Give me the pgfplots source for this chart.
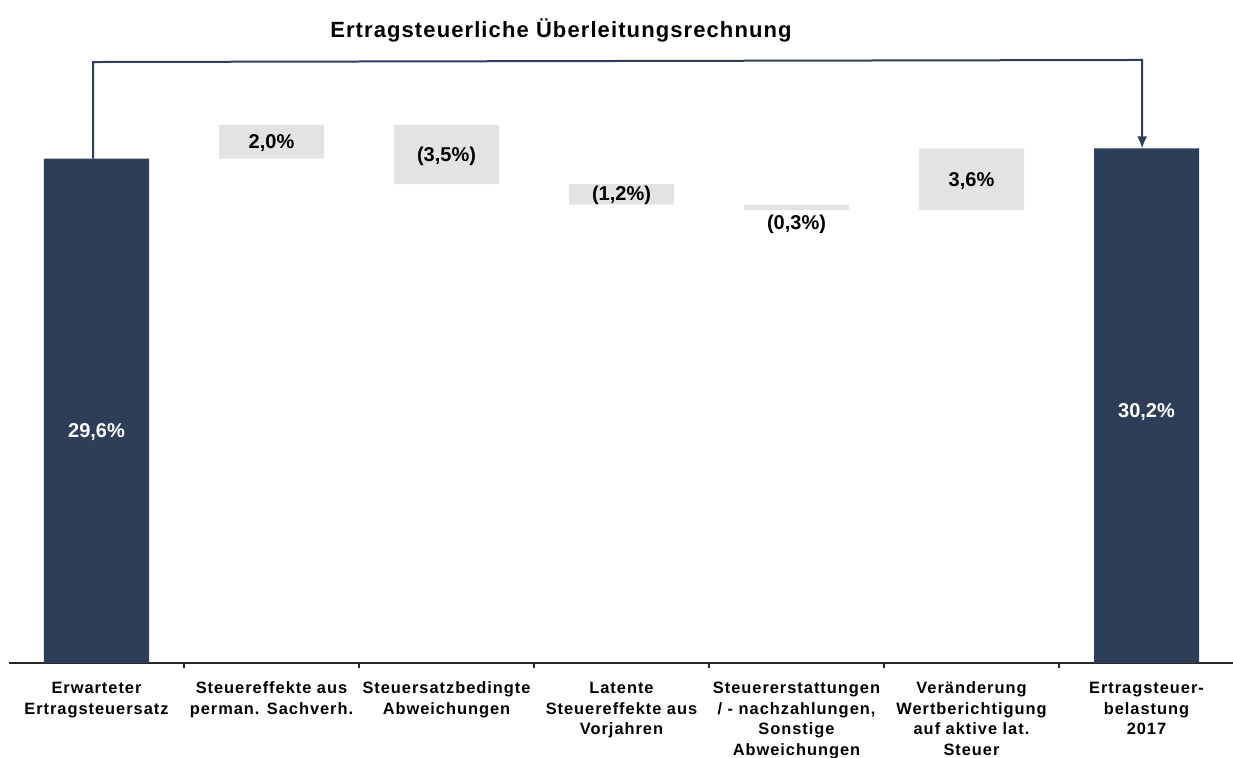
\documentclass[border=0pt]{standalone}
\usepackage{pgfplots}
\pgfplotsset{compat=1.18}
\usepackage{fontspec}
\setmainfont{Liberation Sans}
\newfontfamily\titlefont[LetterSpace=5]{Liberation Sans}
\newfontfamily\labelfont[LetterSpace=6]{Liberation Sans}
\usetikzlibrary{arrows.meta}
\definecolor{navy}{HTML}{2E3E58}
\definecolor{lgray}{HTML}{E3E3E3}
\begin{document}
\begin{tikzpicture}
\begin{axis}[
 scale only axis, width=612.5pt, height=331.5pt,
 xmin=-0.5, xmax=6.5, ymin=0, ymax=38.91,
 axis x line=bottom, axis y line=none,
 x axis line style={-, line width=0.8pt, black!85},
 ybar stacked, bar width=0.6,
 xtick={0,1,2,3,4,5,6}, major tick length=0pt,
 minor xtick={0.5,1.5,2.5,3.5,4.5,5.5,6.5}, minor tick length=2.5pt, tick align=outside,
 minor tick style={black!85, line width=0.6pt},
 xticklabels={{Erwarteter\\Ertragsteuersatz},{Steuereffekte aus\\perman. Sachverh.},{Steuersatzbedingte\\Abweichungen},{Latente\\Steuereffekte aus\\Vorjahren},{Steuererstattungen\\/ - nachzahlungen,\\Sonstige\\Abweichungen},{Veränderung\\Wertberichtigung\\auf aktive lat.\\Steuer},{Ertragsteuer-\\belastung\\2017}},
 typeset ticklabels with strut,
 xticklabel style={align=center, anchor=north, font=\labelfont\fontsize{8.2}{10.25}\selectfont\bfseries, yshift=-4.6pt},
 clip=false,
]
\addplot[draw=none, fill=none, forget plot] coordinates {(0,0) (1,29.6) (2,28.1) (3,26.9) (4,26.6) (5,26.6) (6,0)};
\addplot[fill=navy, draw=none] coordinates {(0,29.6) (1,0) (2,0) (3,0) (4,0) (5,0) (6,30.2)};
\addplot[fill=lgray, draw=none] coordinates {(0,0) (1,2.0) (2,3.5) (3,1.2) (4,0.3) (5,3.6) (6,0)};
\addplot[sharp plot, stack plots=false, navy, line width=1pt, -{Latex[length=6pt,width=5pt]}, mark=none] coordinates {(-0.02,29.6) (-0.02,35.27) (5.975,35.39) (5.975,30.2)};

\coordinate (t) at (axis cs:2.654,37.15);
\coordinate (l0) at (axis cs:0,13.55);
\coordinate (l6) at (axis cs:6,14.73);
\coordinate (l1) at (axis cs:1,30.52);
\coordinate (l2) at (axis cs:2,29.73);
\coordinate (l3) at (axis cs:3,27.42);
\coordinate (l4) at (axis cs:4,25.76);
\coordinate (l5) at (axis cs:5,28.28);
\end{axis}
\node[font=\titlefont\fontsize{11}{13}\selectfont\bfseries] at (t) {Ertragsteuerliche Überleitungsrechnung};
\tikzset{lab/.style={font=\fontsize{10}{12}\selectfont\bfseries}}
\node[lab, white] at (l0) {29,6\%};
\node[lab, white] at (l6) {30,2\%};
\node[lab] at (l1) {2,0\%};
\node[lab] at (l2) {(3,5\%)};
\node[lab] at (l3) {(1,2\%)};
\node[lab] at (l4) {(0,3\%)};
\node[lab] at (l5) {3,6\%};
\pgfresetboundingbox
\path[use as bounding box] (-4.5pt,-47pt) rectangle (612pt,331.5pt);
\end{tikzpicture}
\end{document}
